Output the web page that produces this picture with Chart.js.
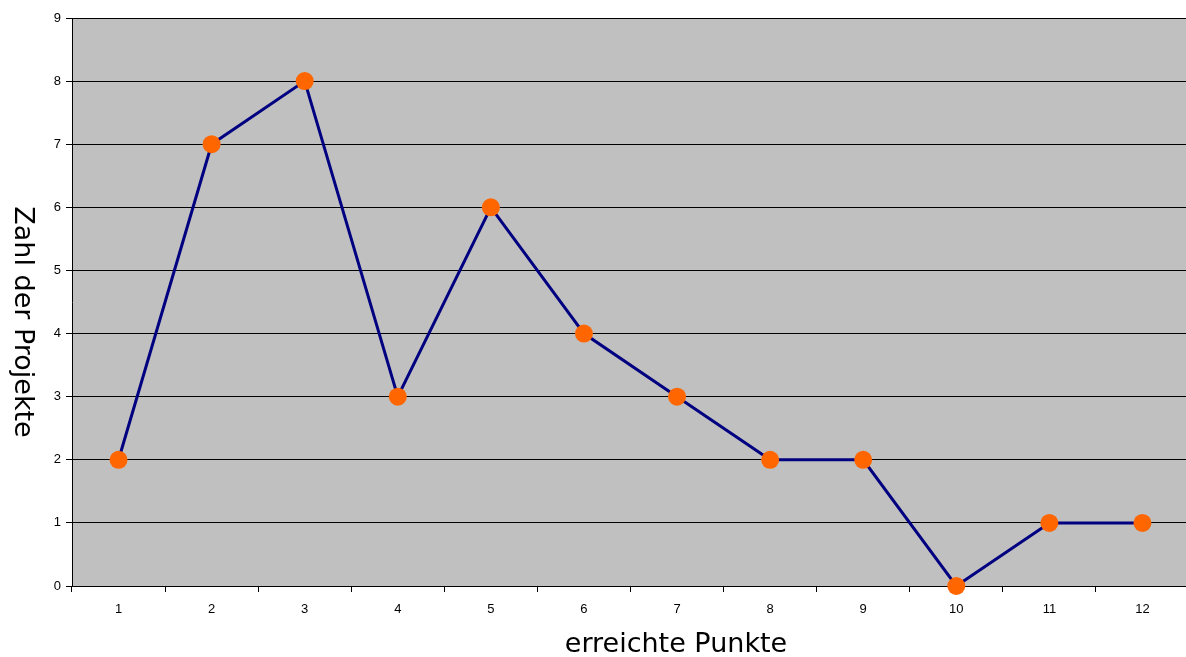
<!DOCTYPE html>
<html lang="de">
<head>
    <meta charset="UTF-8">
    <title>Zahl der Projekte</title>
    <script src="https://cdn.jsdelivr.net/npm/chart.js"></script>
    <style>
        html, body { margin: 0; padding: 0; background: #fff; overflow: hidden; }
        .chart-container { width: 1190px; height: 657px; }
    </style>
</head>
<body>
    <div class="chart-container">
        <canvas id="chart"></canvas>
    </div>
    <script>
        const categories = ["1", "2", "3", "4", "5", "6", "7", "8", "9", "10", "11", "12"];
        const projectCounts = [2, 7, 8, 3, 6, 4, 3, 2, 2, 0, 1, 1];
        const yTicks = [0, 1, 2, 3, 4, 5, 6, 7, 8, 9];
        const xTitle = 'erreichte Punkte';
        const yTitle = 'Zahl der Projekte';

        const titleFont = '27px "DejaVu Sans", Verdana, sans-serif';

        // graue Zeichenfläche
        const plotBackground = {
            id: 'plotBackground',
            beforeDraw(chart) {
                const { ctx, chartArea: a } = chart;
                ctx.save();
                ctx.fillStyle = '#c0c0c0';
                ctx.fillRect(a.left, a.top, a.right - a.left, a.bottom - a.top);
                ctx.restore();
            }
        };

        // Achsentitel, y-Titel von oben nach unten gelesen
        const axisTitles = {
            id: 'axisTitles',
            afterDraw(chart) {
                const { ctx, chartArea: a } = chart;
                ctx.save();
                ctx.fillStyle = '#000';
                ctx.font = titleFont;
                ctx.textAlign = 'center';
                ctx.textBaseline = 'middle';
                ctx.fillText(xTitle, a.left + 604, a.bottom + 59);
                ctx.translate(a.left - 50, a.top + 304);
                ctx.rotate(Math.PI / 2);
                ctx.fillText(yTitle, 0, 0);
                ctx.restore();
            }
        };

        new Chart(document.getElementById('chart'), {
            type: 'line',
            data: {
                labels: categories,
                datasets: [{
                    data: projectCounts,
                    borderColor: '#000080',
                    borderWidth: 3,
                    pointBackgroundColor: '#ff6600',
                    pointBorderColor: '#ff6600',
                    pointRadius: 9,
                    pointBorderWidth: 0,
                    tension: 0,
                    clip: false
                }]
            },
            options: {
                responsive: true,
                maintainAspectRatio: false,
                animation: false,
                layout: { autoPadding: false, padding: { top: 18, right: 1, left: 0, bottom: 0 } },
                plugins: { legend: { display: false }, tooltip: { enabled: false } },
                scales: {
                    x: {
                        offset: true,
                        grid: { offset: true, drawOnChartArea: false, color: '#000', tickLength: 6 },
                        border: { color: '#000', width: 1 },
                        ticks: { color: '#000', padding: 10, font: { family: 'Liberation Sans, Arial', size: 13 } },
                        afterFit(scale) { scale.height = 71; }
                    },
                    y: {
                        min: 0, max: 9,
                        afterBuildTicks(scale) { scale.ticks = yTicks.map(v => ({ value: v })); },
                        grid: { color: '#000', tickLength: 6 },
                        border: { color: '#000', width: 1 },
                        ticks: { color: '#000', padding: 5, font: { family: 'Liberation Sans, Arial', size: 13 } },
                        afterFit(scale) { scale.width = 72; }
                    }
                }
            },
            plugins: [plotBackground, axisTitles]
        });
    </script>
</body>
</html>
